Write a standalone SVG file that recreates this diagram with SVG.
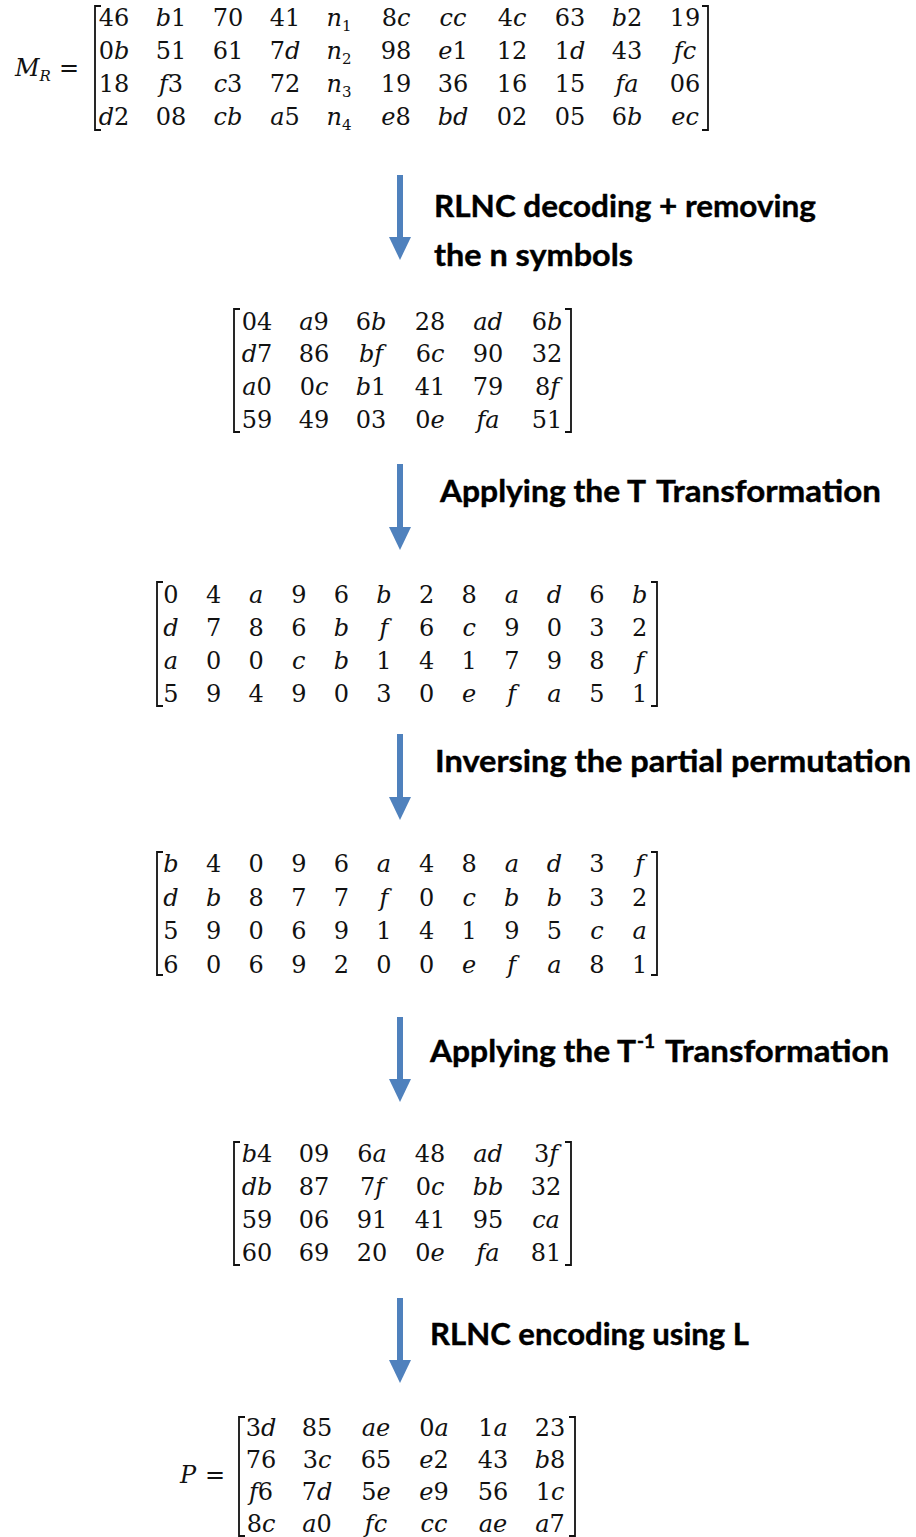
<svg xmlns="http://www.w3.org/2000/svg" width="916" height="1537" viewBox="0 0 916 1537">
  <style>
    .m { font-family: "DejaVu Serif", "Liberation Serif", serif; font-size: 24px; fill: #111; text-anchor: middle; }
    .eq { font-family: "DejaVu Serif", "Liberation Serif", serif; font-size: 24px; fill: #111; }
    .i { font-style: italic; }
    .sub { font-size: 15px; }
    .br { fill: none; stroke: #111; stroke-width: 1.8; }
    .lbl { font-family: "Lato", "Open Sans", "Liberation Sans", sans-serif; font-weight: bold; font-size: 31px; fill: #000; stroke: #000; stroke-width: 0.4; }
    .sup { font-size: 19px; }
    .arr { stroke: #4f81bd; stroke-width: 6; fill: none; }
  </style>
  <defs>
    <marker id="ah" viewBox="0 0 23 22" refX="0" refY="11" markerWidth="23" markerHeight="22" markerUnits="userSpaceOnUse" orient="auto">
      <path d="M0,0 L23,11 L0,22 z" fill="#4f81bd"/>
    </marker>
  </defs>

  <!-- received matrix M_R -->
  <g id="matrix-mr">
    <text class="eq" x="15" y="76"><tspan class="i">M</tspan><tspan class="i sub" dy="5">R</tspan><tspan dy="-5" x="59">=</tspan></text>
    <path class="br" d="M101,6 H95 V130 H101"/>
    <path class="br" d="M702,6 H708 V130 H702"/>
    <text class="m" y="26"><tspan x="114">46</tspan><tspan x="171"><tspan class="i">b</tspan>1</tspan><tspan x="228">70</tspan><tspan x="285">41</tspan><tspan x="339"><tspan class="i">n</tspan><tspan class="sub" dy="5">1</tspan></tspan><tspan x="396" dy="-5">8<tspan class="i">c</tspan></tspan><tspan x="453" class="i">cc</tspan><tspan x="512">4<tspan class="i">c</tspan></tspan><tspan x="570">63</tspan><tspan x="627"><tspan class="i">b</tspan>2</tspan><tspan x="685">19</tspan></text>
    <text class="m" y="59"><tspan x="114">0<tspan class="i">b</tspan></tspan><tspan x="171">51</tspan><tspan x="228">61</tspan><tspan x="285">7<tspan class="i">d</tspan></tspan><tspan x="339"><tspan class="i">n</tspan><tspan class="sub" dy="5">2</tspan></tspan><tspan x="396" dy="-5">98</tspan><tspan x="453"><tspan class="i">e</tspan>1</tspan><tspan x="512">12</tspan><tspan x="570">1<tspan class="i">d</tspan></tspan><tspan x="627">43</tspan><tspan x="685" class="i">fc</tspan></text>
    <text class="m" y="92"><tspan x="114">18</tspan><tspan x="171"><tspan class="i">f</tspan>3</tspan><tspan x="228"><tspan class="i">c</tspan>3</tspan><tspan x="285">72</tspan><tspan x="339"><tspan class="i">n</tspan><tspan class="sub" dy="5">3</tspan></tspan><tspan x="396" dy="-5">19</tspan><tspan x="453">36</tspan><tspan x="512">16</tspan><tspan x="570">15</tspan><tspan x="627" class="i">fa</tspan><tspan x="685">06</tspan></text>
    <text class="m" y="125"><tspan x="114"><tspan class="i">d</tspan>2</tspan><tspan x="171">08</tspan><tspan x="228" class="i">cb</tspan><tspan x="285"><tspan class="i">a</tspan>5</tspan><tspan x="339"><tspan class="i">n</tspan><tspan class="sub" dy="5">4</tspan></tspan><tspan x="396" dy="-5"><tspan class="i">e</tspan>8</tspan><tspan x="453" class="i">bd</tspan><tspan x="512">02</tspan><tspan x="570">05</tspan><tspan x="627">6<tspan class="i">b</tspan></tspan><tspan x="685" class="i">ec</tspan></text>
  </g>

  <!-- decoded matrix -->
  <g id="matrix-decoded">
    <path class="br" d="M240,309 H234 V432 H240"/>
    <path class="br" d="M565,309 H571 V432 H565"/>
    <text class="m" y="330"><tspan x="257">04</tspan><tspan x="314"><tspan class="i">a</tspan>9</tspan><tspan x="371">6<tspan class="i">b</tspan></tspan><tspan x="430">28</tspan><tspan x="488" class="i">ad</tspan><tspan x="547">6<tspan class="i">b</tspan></tspan></text>
    <text class="m" y="362"><tspan x="257"><tspan class="i">d</tspan>7</tspan><tspan x="314">86</tspan><tspan x="371" class="i">bf</tspan><tspan x="430">6<tspan class="i">c</tspan></tspan><tspan x="488">90</tspan><tspan x="547">32</tspan></text>
    <text class="m" y="395"><tspan x="257"><tspan class="i">a</tspan>0</tspan><tspan x="314">0<tspan class="i">c</tspan></tspan><tspan x="371"><tspan class="i">b</tspan>1</tspan><tspan x="430">41</tspan><tspan x="488">79</tspan><tspan x="547">8<tspan class="i">f</tspan></tspan></text>
    <text class="m" y="428"><tspan x="257">59</tspan><tspan x="314">49</tspan><tspan x="371">03</tspan><tspan x="430">0<tspan class="i">e</tspan></tspan><tspan x="488" class="i">fa</tspan><tspan x="547">51</tspan></text>
  </g>

  <!-- after T transformation -->
  <g id="matrix-t">
    <path class="br" d="M163,582 H157 V706 H163"/>
    <path class="br" d="M651,582 H657 V706 H651"/>
    <text class="m" y="603"><tspan x="171">0</tspan><tspan x="213.6">4</tspan><tspan x="256.2" class="i">a</tspan><tspan x="298.8">9</tspan><tspan x="341.4">6</tspan><tspan x="384" class="i">b</tspan><tspan x="426.6">2</tspan><tspan x="469.2">8</tspan><tspan x="511.8" class="i">a</tspan><tspan x="554.4" class="i">d</tspan><tspan x="597">6</tspan><tspan x="639.6" class="i">b</tspan></text>
    <text class="m" y="636"><tspan x="171" class="i">d</tspan><tspan x="213.6">7</tspan><tspan x="256.2">8</tspan><tspan x="298.8">6</tspan><tspan x="341.4" class="i">b</tspan><tspan x="384" class="i">f</tspan><tspan x="426.6">6</tspan><tspan x="469.2" class="i">c</tspan><tspan x="511.8">9</tspan><tspan x="554.4">0</tspan><tspan x="597">3</tspan><tspan x="639.6">2</tspan></text>
    <text class="m" y="669"><tspan x="171" class="i">a</tspan><tspan x="213.6">0</tspan><tspan x="256.2">0</tspan><tspan x="298.8" class="i">c</tspan><tspan x="341.4" class="i">b</tspan><tspan x="384">1</tspan><tspan x="426.6">4</tspan><tspan x="469.2">1</tspan><tspan x="511.8">7</tspan><tspan x="554.4">9</tspan><tspan x="597">8</tspan><tspan x="639.6" class="i">f</tspan></text>
    <text class="m" y="702"><tspan x="171">5</tspan><tspan x="213.6">9</tspan><tspan x="256.2">4</tspan><tspan x="298.8">9</tspan><tspan x="341.4">0</tspan><tspan x="384">3</tspan><tspan x="426.6">0</tspan><tspan x="469.2" class="i">e</tspan><tspan x="511.8" class="i">f</tspan><tspan x="554.4" class="i">a</tspan><tspan x="597">5</tspan><tspan x="639.6">1</tspan></text>
  </g>

  <!-- after inverse partial permutation -->
  <g id="matrix-perm">
    <path class="br" d="M163,852 H157 V975 H163"/>
    <path class="br" d="M651,852 H657 V975 H651"/>
    <text class="m" y="872"><tspan x="171" class="i">b</tspan><tspan x="213.6">4</tspan><tspan x="256.2">0</tspan><tspan x="298.8">9</tspan><tspan x="341.4">6</tspan><tspan x="384" class="i">a</tspan><tspan x="426.6">4</tspan><tspan x="469.2">8</tspan><tspan x="511.8" class="i">a</tspan><tspan x="554.4" class="i">d</tspan><tspan x="597">3</tspan><tspan x="639.6" class="i">f</tspan></text>
    <text class="m" y="905.5"><tspan x="171" class="i">d</tspan><tspan x="213.6" class="i">b</tspan><tspan x="256.2">8</tspan><tspan x="298.8">7</tspan><tspan x="341.4">7</tspan><tspan x="384" class="i">f</tspan><tspan x="426.6">0</tspan><tspan x="469.2" class="i">c</tspan><tspan x="511.8" class="i">b</tspan><tspan x="554.4" class="i">b</tspan><tspan x="597">3</tspan><tspan x="639.6">2</tspan></text>
    <text class="m" y="939"><tspan x="171">5</tspan><tspan x="213.6">9</tspan><tspan x="256.2">0</tspan><tspan x="298.8">6</tspan><tspan x="341.4">9</tspan><tspan x="384">1</tspan><tspan x="426.6">4</tspan><tspan x="469.2">1</tspan><tspan x="511.8">9</tspan><tspan x="554.4">5</tspan><tspan x="597" class="i">c</tspan><tspan x="639.6" class="i">a</tspan></text>
    <text class="m" y="972.5"><tspan x="171">6</tspan><tspan x="213.6">0</tspan><tspan x="256.2">6</tspan><tspan x="298.8">9</tspan><tspan x="341.4">2</tspan><tspan x="384">0</tspan><tspan x="426.6">0</tspan><tspan x="469.2" class="i">e</tspan><tspan x="511.8" class="i">f</tspan><tspan x="554.4" class="i">a</tspan><tspan x="597">8</tspan><tspan x="639.6">1</tspan></text>
  </g>

  <!-- after inverse T transformation -->
  <g id="matrix-tinv">
    <path class="br" d="M240,1142 H234 V1265 H240"/>
    <path class="br" d="M565,1142 H571 V1265 H565"/>
    <text class="m" y="1162"><tspan x="257"><tspan class="i">b</tspan>4</tspan><tspan x="314">09</tspan><tspan x="372">6<tspan class="i">a</tspan></tspan><tspan x="430">48</tspan><tspan x="488" class="i">ad</tspan><tspan x="546">3<tspan class="i">f</tspan></tspan></text>
    <text class="m" y="1195"><tspan x="257" class="i">db</tspan><tspan x="314">87</tspan><tspan x="372">7<tspan class="i">f</tspan></tspan><tspan x="430">0<tspan class="i">c</tspan></tspan><tspan x="488" class="i">bb</tspan><tspan x="546">32</tspan></text>
    <text class="m" y="1228"><tspan x="257">59</tspan><tspan x="314">06</tspan><tspan x="372">91</tspan><tspan x="430">41</tspan><tspan x="488">95</tspan><tspan x="546" class="i">ca</tspan></text>
    <text class="m" y="1261"><tspan x="257">60</tspan><tspan x="314">69</tspan><tspan x="372">20</tspan><tspan x="430">0<tspan class="i">e</tspan></tspan><tspan x="488" class="i">fa</tspan><tspan x="546">81</tspan></text>
  </g>

  <!-- re-encoded matrix P -->
  <g id="matrix-p">
    <text class="eq" x="180" y="1483"><tspan class="i">P</tspan><tspan x="205">=</tspan></text>
    <path class="br" d="M245,1417 H239 V1536 H245"/>
    <path class="br" d="M569,1417 H575 V1536 H569"/>
    <text class="m" y="1436"><tspan x="261">3<tspan class="i">d</tspan></tspan><tspan x="317">85</tspan><tspan x="376" class="i">ae</tspan><tspan x="434">0<tspan class="i">a</tspan></tspan><tspan x="493">1<tspan class="i">a</tspan></tspan><tspan x="550">23</tspan></text>
    <text class="m" y="1468"><tspan x="261">76</tspan><tspan x="317">3<tspan class="i">c</tspan></tspan><tspan x="376">65</tspan><tspan x="434"><tspan class="i">e</tspan>2</tspan><tspan x="493">43</tspan><tspan x="550"><tspan class="i">b</tspan>8</tspan></text>
    <text class="m" y="1500"><tspan x="261"><tspan class="i">f</tspan>6</tspan><tspan x="317">7<tspan class="i">d</tspan></tspan><tspan x="376">5<tspan class="i">e</tspan></tspan><tspan x="434"><tspan class="i">e</tspan>9</tspan><tspan x="493">56</tspan><tspan x="550">1<tspan class="i">c</tspan></tspan></text>
    <text class="m" y="1532"><tspan x="261">8<tspan class="i">c</tspan></tspan><tspan x="317"><tspan class="i">a</tspan>0</tspan><tspan x="376" class="i">fc</tspan><tspan x="434" class="i">cc</tspan><tspan x="493" class="i">ae</tspan><tspan x="550"><tspan class="i">a</tspan>7</tspan></text>
  </g>

  <!-- step arrows -->
  <g id="connectors">
    <line class="arr" x1="400" y1="175" x2="400" y2="237" marker-end="url(#ah)"/>
    <line class="arr" x1="400" y1="464" x2="400" y2="527" marker-end="url(#ah)"/>
    <line class="arr" x1="400" y1="734" x2="400" y2="797" marker-end="url(#ah)"/>
    <line class="arr" x1="400" y1="1017" x2="400" y2="1079" marker-end="url(#ah)"/>
    <line class="arr" x1="400" y1="1298" x2="400" y2="1360" marker-end="url(#ah)"/>
  </g>

  <!-- step labels -->
  <g id="label-decode">
    <text class="lbl" x="434" y="217" textLength="382" lengthAdjust="spacingAndGlyphs">RLNC decoding + removing</text>
    <text class="lbl" x="434" y="266" textLength="199" lengthAdjust="spacingAndGlyphs">the n symbols</text>
  </g>
  <g id="label-t">
    <text class="lbl" x="440" y="502" textLength="206" lengthAdjust="spacingAndGlyphs">Applying the T</text>
    <text class="lbl" x="656" y="502" textLength="225" lengthAdjust="spacingAndGlyphs">Transformation</text>
  </g>
  <g id="label-perm">
    <text class="lbl" x="435" y="772" textLength="476" lengthAdjust="spacingAndGlyphs">Inversing the partial permutation</text>
  </g>
  <g id="label-tinv">
    <text class="lbl" x="430" y="1062" textLength="206" lengthAdjust="spacingAndGlyphs">Applying the T</text>
    <text class="lbl sup" x="637" y="1048">-1</text>
    <text class="lbl" x="665" y="1062" textLength="224" lengthAdjust="spacingAndGlyphs">Transformation</text>
  </g>
  <g id="label-encode">
    <text class="lbl" x="430" y="1345" textLength="319" lengthAdjust="spacingAndGlyphs">RLNC encoding using L</text>
  </g>
</svg>
